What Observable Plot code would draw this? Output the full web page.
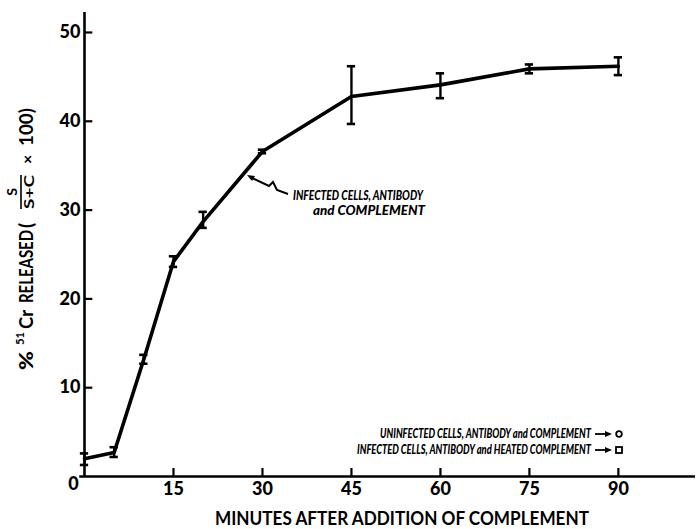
<!DOCTYPE html>
<html>
<head>
<meta charset="utf-8">
<script src="https://cdn.jsdelivr.net/npm/d3@7"></script>
<script src="https://cdn.jsdelivr.net/npm/@observablehq/plot@0.6"></script>
<style>
  html, body { margin: 0; padding: 0; background: #fff; }
  #chart { width: 698px; height: 529px; }
  svg { display: block; }
</style>
</head>
<body>
<div id="chart"></div>
<script>
// Data
const times = [0, 5, 10, 15, 20, 30, 45, 60, 75, 90];
const means = [2.0, 2.7, 13.2, 24.2, 28.7, 36.6, 42.8, 44.1, 45.9, 46.2];
const lows  = [1.3, 2.2, 12.7, 23.6, 28.0, 36.4, 39.7, 42.6, 45.4, 45.2];
const highs = [2.6, 3.3, 13.7, 24.8, 29.8, 36.8, 46.2, 45.4, 46.4, 47.2];
const xTicks = [15, 30, 45, 60, 75, 90];
const yTicks = [10, 20, 30, 40, 50];
const curveLabel = ["INFECTED CELLS, ANTIBODY", "and COMPLEMENT"];
const legendLabels = ["UNINFECTED CELLS, ANTIBODY and COMPLEMENT", "INFECTED CELLS, ANTIBODY and HEATED COMPLEMENT"];
const xTitle = "MINUTES AFTER ADDITION OF COMPLEMENT";

const data = times.map((t, i) => ({t, v: means[i], lo: lows[i], hi: highs[i]}));
const font = "Lato, 'Open Sans', sans-serif";

const chart = Plot.plot({
  width: 698,
  height: 529,
  marginLeft: 84,
  marginRight: 3,
  marginTop: 12,
  marginBottom: 53,
  style: {fontFamily: font, background: "#fff", color: "#000"},
  x: {domain: [0, 103], axis: null},
  y: {domain: [0, 52.25], axis: null},
  marks: [
    Plot.ruleY([0], {stroke: "#000", strokeWidth: 2.6, x1: -0.8, x2: 103}),
    Plot.ruleX([0], {stroke: "#000", strokeWidth: 2.6, y1: 0, y2: 52.25}),
    Plot.ruleY(yTicks, {x1: 0, x2: 1.4, stroke: "#000", strokeWidth: 2.2}),
    Plot.ruleX(xTicks, {y1: 0, y2: 0.9, stroke: "#000", strokeWidth: 2.2}),
    Plot.text(yTicks, {x: 0, y: d => d, text: d => String(d), textAnchor: "end", dx: -4, fontSize: 18, fontWeight: 900}),
    Plot.text(xTicks, {x: d => d, y: 0, text: d => String(d), dy: 13, fontSize: 18, fontWeight: 900}),
    Plot.text([0], {x: 0, y: 0, text: d => String(d), dx: -11, dy: 8, fontSize: 18, fontWeight: 900}),
    Plot.line(data, {x: "t", y: "v", stroke: "#000", strokeWidth: 3.6, strokeLinejoin: "round"}),
    Plot.ruleX(data, {x: "t", y1: "lo", y2: "hi", stroke: "#000", strokeWidth: 2.4}),
    Plot.ruleY(data, {y: "lo", x1: d => d.t - 0.7, x2: d => d.t + 0.7, stroke: "#000", strokeWidth: 2.6}),
    Plot.ruleY(data, {y: "hi", x1: d => d.t - 0.7, x2: d => d.t + 0.7, stroke: "#000", strokeWidth: 2.6})
  ]
});

document.getElementById("chart").appendChild(chart);

const svg = d3.select(chart);

// Curve annotation
const ann = svg.append("g").attr("text-anchor", "start").attr("font-family", font).attr("font-weight", 900).attr("font-style", "italic").attr("font-size", 13).attr("fill", "#000");
ann.append("text").attr("x", 293).attr("y", 200).attr("textLength", 130).attr("lengthAdjust", "spacingAndGlyphs").text(curveLabel[0]);
ann.append("text").attr("x", 313).attr("y", 215).attr("textLength", 112).attr("lengthAdjust", "spacingAndGlyphs").text(curveLabel[1]);
svg.append("path").attr("d", "M250,177 L269,186 L273,182 L277,190 L288,194").attr("fill", "none").attr("stroke", "#000").attr("stroke-width", 2);
svg.append("path").attr("d", "M247,175 L255,176 L252,181 Z").attr("fill", "#000");

// Legend lines
const leg = svg.append("g").attr("text-anchor", "start").attr("font-family", font).attr("font-weight", 900).attr("font-style", "italic").attr("font-size", 12.5).attr("fill", "#000");
leg.append("text").attr("x", 380).attr("y", 438).attr("textLength", 211).attr("lengthAdjust", "spacingAndGlyphs").text(legendLabels[0]);
leg.append("text").attr("x", 357).attr("y", 454).attr("textLength", 234).attr("lengthAdjust", "spacingAndGlyphs").text(legendLabels[1]);
[434, 450].forEach(y => {
  svg.append("line").attr("x1", 595).attr("x2", 607).attr("y1", y).attr("y2", y).attr("stroke", "#000").attr("stroke-width", 1.8);
  svg.append("path").attr("d", `M605,${y-3} L612,${y} L605,${y+3} Z`).attr("fill", "#000");
});
svg.append("circle").attr("cx", 619).attr("cy", 434).attr("r", 2.8).attr("fill", "none").attr("stroke", "#000").attr("stroke-width", 1.8);
svg.append("rect").attr("x", 616).attr("y", 447).attr("width", 6).attr("height", 6).attr("fill", "none").attr("stroke", "#000").attr("stroke-width", 1.8);

// X title
svg.append("text").attr("text-anchor", "start").attr("x", 215).attr("y", 525).attr("font-family", font).attr("font-weight", 700).attr("font-size", 19.5)
  .attr("textLength", 374).attr("lengthAdjust", "spacingAndGlyphs").text(xTitle);

// Y title (rotated, with fraction)
const yl = svg.append("g").attr("text-anchor", "start").attr("transform", "translate(26,239) rotate(-90)").attr("font-family", font).attr("font-weight", 700).attr("fill", "#000");
yl.append("text").attr("x", -131).attr("y", 7).attr("font-size", 19).attr("font-weight", 900).attr("textLength", 19).attr("lengthAdjust", "spacingAndGlyphs").text("%");
yl.append("text").attr("x", -106).attr("y", -2).attr("font-size", 12).attr("textLength", 13).attr("lengthAdjust", "spacingAndGlyphs").text("51");
yl.append("text").attr("x", -90).attr("y", 7).attr("font-size", 18.5).attr("textLength", 19).attr("lengthAdjust", "spacingAndGlyphs").text("Cr");
yl.append("text").attr("x", -64).attr("y", 7).attr("font-size", 18.5).attr("textLength", 73).attr("lengthAdjust", "spacingAndGlyphs").text("RELEASED");
yl.append("text").attr("x", 11).attr("y", 7).attr("font-size", 19).text("(");
yl.append("text").attr("x", 47).attr("y", -9).attr("font-size", 14).attr("text-anchor", "middle").text("S");
yl.append("line").attr("x1", 30).attr("x2", 64).attr("y1", -5).attr("y2", -5).attr("stroke", "#000").attr("stroke-width", 1.6);
yl.append("text").attr("x", 30).attr("y", 8).attr("font-size", 14).attr("textLength", 34).attr("lengthAdjust", "spacingAndGlyphs").text("S+C");
yl.append("text").attr("x", 75).attr("y", 7).attr("font-size", 16).text("×");
yl.append("text").attr("x", 93).attr("y", 7).attr("font-size", 18.5).attr("textLength", 38).attr("lengthAdjust", "spacingAndGlyphs").text("100)");
</script>
</body>
</html>
